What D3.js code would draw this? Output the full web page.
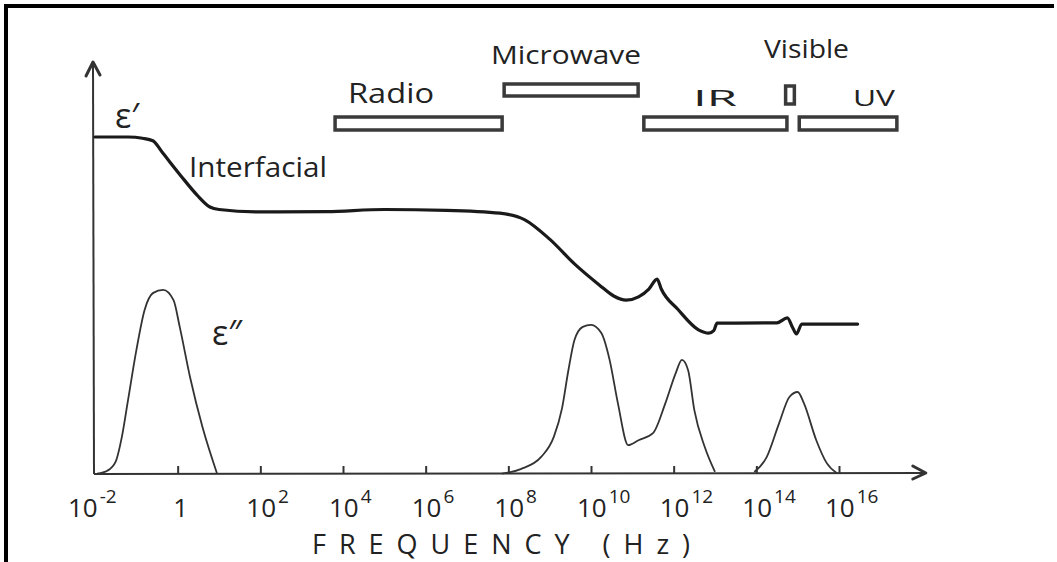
<!DOCTYPE html>
<html>
<head>
<meta charset="utf-8">
<script src="https://cdn.jsdelivr.net/npm/d3@7"></script>
<style>
  html, body { margin: 0; padding: 0; background: #fff; }
  svg { display: block; }
  text { fill: #222; font-family: "Open Sans", "DejaVu Sans", sans-serif; }
</style>
</head>
<body>
<svg id="chart" width="1057" height="562"></svg>
<script>
// Dielectric permittivity vs. frequency (schematic).
// Frequencies are stored as log10(Hz); permittivity in arbitrary units (0–100).

// Real part ε′: [log10 f, value]
const epsPrime = [
  [-2.0, 81.8], [-1.2, 81.8], [-0.85, 81.5], [-0.6, 80.9], [-0.36, 77.9],
  [0.06, 72.6], [0.47, 67.7], [0.78, 64.8], [1.0, 64.2], [2.0, 63.6],
  [3.6, 63.7], [5.0, 64.2], [6.5, 64.0], [7.8, 63.3], [8.4, 61.7],
  [9.0, 57.0], [9.6, 51.0], [10.2, 45.9], [10.55, 43.2], [10.85, 42.2],
  [11.15, 43.0], [11.4, 44.9], [11.6, 47.3], [11.7, 44.9], [12.1, 40.0],
  [12.6, 35.0], [12.85, 34.2], [12.97, 34.8], [13.05, 36.6], [14.5, 36.7],
  [14.75, 37.9], [14.88, 35.5], [14.97, 34.0], [15.1, 36.4], [16.45, 36.4]
];

// Imaginary part ε″: [log10 f, value]; null separates the loss peaks
const epsDoublePrime = [
  [-1.95, 0.1], [-1.7, 0.8], [-1.5, 3.0], [-1.35, 9.0], [-1.2, 18.0],
  [-1.0, 30.0], [-0.8, 39.8], [-0.6, 43.9], [-0.35, 44.7], [-0.1, 42.2],
  [0.05, 35.7], [0.3, 23.5], [0.6, 11.4], [0.95, 0.2],
  null,
  [7.85, 0.1], [8.3, 1.2], [8.8, 4.2], [9.1, 9.0], [9.3, 16.0],
  [9.45, 25.0], [9.6, 32.5], [9.8, 35.7], [10.0, 36.2], [10.25, 34.2],
  [10.45, 27.7], [10.65, 17.2], [10.9, 7.0], [11.15, 8.2], [11.5, 9.9],
  [11.8, 17.2], [12.05, 24.5], [12.2, 27.7], [12.35, 25.2], [12.5, 15.5],
  [12.75, 6.6], [13.0, 0.5],
  null,
  [13.95, 0.5], [14.25, 4.1], [14.55, 12.3], [14.8, 18.7], [15.0, 19.9],
  [15.15, 17.2], [15.45, 8.2], [15.7, 2.7], [15.95, 0.2]
];

// Spectral regions: name, start and end (log10 Hz), row (0 lower, 1 upper)
const bandNames  = ["Radio", "Microwave", "IR", "Visible", "UV"];
const bandStarts = [3.76, 7.85, 11.23, 14.66, 14.99];
const bandEnds   = [7.85, 11.14, 14.74, 14.92, 17.40];
const bandRows   = [0, 1, 0, 1, 0];

// Tick exponents on the frequency axis
const tickExponents = [-2, 0, 2, 4, 6, 8, 10, 12, 14, 16];

const svg = d3.select("#chart");

const x = d3.scaleLog().domain([1e-2, 1e16]).range([95, 839]);
const y = d3.scaleLinear().domain([0, 100]).range([474, 62]);
const fx = e => x(Math.pow(10, e));

// frame
svg.append("rect").attr("x", 4).attr("y", 4).attr("width", 1050).attr("height", 4).attr("fill", "#000");
svg.append("rect").attr("x", 4).attr("y", 4).attr("width", 4).attr("height", 558).attr("fill", "#000");

const axisColor = "#333";
const x0 = x.range()[0];
const yBase = y(0);

// vertical axis with arrow
svg.append("line").attr("x1", x0 - 1).attr("y1", yBase).attr("x2", x0 - 2).attr("y2", y(100) + 2)
  .attr("stroke", axisColor).attr("stroke-width", 2);
svg.append("path")
  .attr("d", `M${x0 - 9},${y(100) + 14} L${x0 - 2},${y(100)} L${x0 + 5},${y(100) + 13}`)
  .attr("fill", "none").attr("stroke", axisColor).attr("stroke-width", 3)
  .attr("stroke-linecap", "round").attr("stroke-linejoin", "round");

// horizontal axis with arrow
const xEnd = fx(18.1);
svg.append("line").attr("x1", x0 - 1).attr("y1", yBase).attr("x2", xEnd).attr("y2", yBase - 1)
  .attr("stroke", axisColor).attr("stroke-width", 2);
svg.append("path")
  .attr("d", `M${xEnd - 13},${yBase - 8} L${xEnd},${yBase - 1} L${xEnd - 13},${yBase + 5}`)
  .attr("fill", "none").attr("stroke", axisColor).attr("stroke-width", 3)
  .attr("stroke-linecap", "round").attr("stroke-linejoin", "round");

// inward ticks
const axisG = svg.append("g").attr("transform", `translate(0,${yBase})`)
  .call(d3.axisBottom(x)
    .tickValues(tickExponents.filter(e => e > -2).map(e => Math.pow(10, e)))
    .tickSize(-8).tickFormat(""));
axisG.select(".domain").remove();
axisG.selectAll(".tick line").attr("stroke", axisColor).attr("stroke-width", 2);

// tick labels: "1", or base "10" with a raised exponent
const tickLabels = svg.append("g");
tickExponents.forEach(e => {
  const tx = fx(e);
  if (e === 0) {
    tickLabels.append("text").attr("x", tx + 3).attr("y", 517)
      .attr("text-anchor", "middle").attr("font-size", 26).text("1");
  } else {
    const t = tickLabels.append("text")
      .attr("x", e === -2 ? tx - 27 : tx - 14).attr("y", 517).attr("font-size", 26);
    t.append("tspan").text("10");
    t.append("tspan").attr("dy", -14).attr("dx", 2).attr("font-size", 19).text(String(e));
  }
});

// axis title
svg.append("text").attr("x", 312).attr("y", 554)
  .attr("font-size", 27).attr("textLength", 378).attr("lengthAdjust", "spacing")
  .text("FREQUENCY (Hz)");

// spectral band boxes
const bands = bandNames.map((n, i) => ({ name: n, start: bandStarts[i], end: bandEnds[i], row: bandRows[i] }));
const rowTop = [117, 84];
const rowHeight = [13, 12];
const bandG = svg.append("g");
bands.forEach(b => {
  const tall = b.name === "Visible";
  const top = tall ? 86 : rowTop[b.row];
  const h = tall ? 18 : rowHeight[b.row];
  bandG.append("rect")
    .attr("x", fx(b.start) + 2).attr("y", top)
    .attr("width", Math.max(fx(b.end) - fx(b.start) - 2, 8)).attr("height", h)
    .attr("fill", "#fff").attr("stroke", "#3a3a3a").attr("stroke-width", 3.5);
});

// band labels
const bandLabelPos = {
  "Radio":     { x: 348, y: 103, size: 27, w: 86 },
  "Microwave": { x: 491, y: 64,  size: 25, w: 150 },
  "IR":        { x: 693, y: 106, size: 21, w: 44 },
  "Visible":   { x: 764, y: 58,  size: 25, w: 85 },
  "UV":        { x: 853, y: 106, size: 21, w: 42 }
};
bands.forEach(b => {
  const p = bandLabelPos[b.name];
  svg.append("text").attr("x", p.x).attr("y", p.y).attr("font-size", p.size)
    .attr("textLength", p.w).attr("lengthAdjust", "spacingAndGlyphs")
    .text(b.name);
});

// curves
const line = d3.line()
  .defined(d => d !== null)
  .x(d => fx(d[0]))
  .y(d => y(d[1]))
  .curve(d3.curveMonotoneX);

svg.append("path").datum(epsDoublePrime).attr("d", line)
  .attr("fill", "none").attr("stroke", "#333").attr("stroke-width", 1.8)
  .attr("stroke-linejoin", "round");

svg.append("path").datum(epsPrime).attr("d", line)
  .attr("fill", "none").attr("stroke", "#1a1a1a").attr("stroke-width", 3.2)
  .attr("stroke-linejoin", "round").attr("stroke-linecap", "round");

// curve labels
svg.append("text").attr("x", 115).attr("y", 128).attr("font-size", 34).text("ε′");
svg.append("text").attr("x", 212).attr("y", 345).attr("font-size", 34).text("ε″");
svg.append("text").attr("x", 189).attr("y", 177).attr("font-size", 27)
  .attr("textLength", 138).attr("lengthAdjust", "spacingAndGlyphs").text("Interfacial");
</script>
</body>
</html>
